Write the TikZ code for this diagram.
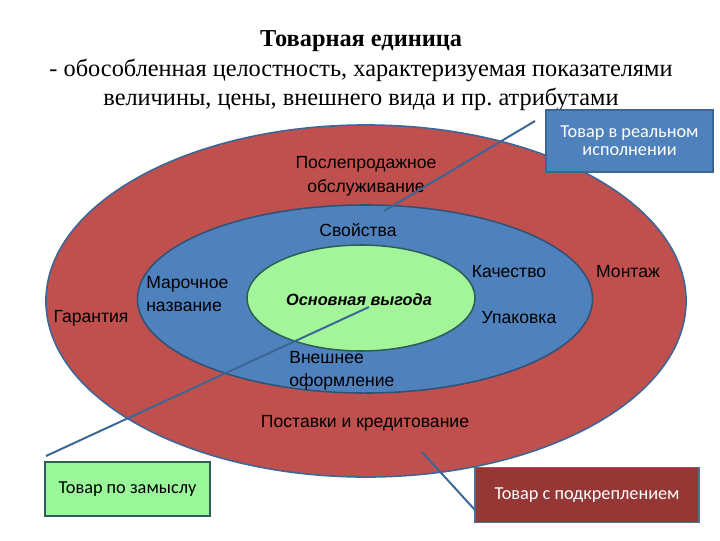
\documentclass[tikz,border=0pt]{standalone}
\usepackage{fontspec}
\setmainfont{Liberation Serif}
\newfontfamily\lsans{Liberation Sans}
\newfontfamily\calib{Carlito}
\usetikzlibrary{shapes.geometric}
\definecolor{ringred}{HTML}{C0504D}
\definecolor{ringblue}{HTML}{4F81BD}
\definecolor{ringgreen}{HTML}{A2F598}
\definecolor{edgeblue}{HTML}{3B6696}
\definecolor{edgeteal}{HTML}{2E5E5C}
\definecolor{boxred}{HTML}{953735}
\definecolor{boxgreen}{HTML}{99F79A}
\tikzset{
  ring/.style={ellipse,draw=edgeblue,line width=1.1pt,inner sep=0pt},
  lbl/.style={font=\lsans\fontsize{12.5}{16}\selectfont,text=black,inner sep=0pt,align=#1},
  lbl/.default=center,
  tag/.style={rectangle,line width=1.2pt,inner sep=0pt,align=center,font=\calib\fontsize{13}{13}\selectfont},
  lead/.style={edgeblue,line width=1.4pt},
}
\frenchspacing
\begin{document}
\begin{tikzpicture}[x=0.025cm,y=-0.025cm]
\useasboundingbox (0,0) rectangle (720,540);
% title
\node[align=center,font=\fontsize{17.3}{21}\selectfont] (title) at (361,71)
  {\textbf{Товарная единица}\\- обособленная целостность, характеризуемая показателями\\величины, цены, внешнего вида и пр. атрибутами};
% rings
\node[ring,fill=ringred,minimum width=16cm,minimum height=8.8cm] (outer) at (366,301) {};
\node[ring,fill=ringblue,draw=edgeblue!80!black,minimum width=11.375cm,minimum height=4.7cm] (mid) at (365,299) {};
\node[ring,fill=ringgreen,draw=edgeteal,minimum width=5.7cm,minimum height=2.65cm] (core) at (361,298) {};
% labels
\node[lbl,font=\lsans\fontsize{12.5}{17}\selectfont] (service) at (366,176) {Послепродажное\\обслуживание};
\node[lbl] (props) at (358,230) {Свойства};
\node[lbl=left,anchor=west] (brand) at (146,294) {Марочное\\название};
\node[lbl] (warranty) at (91,318) {Гарантия};
\node[lbl,font=\lsans\fontsize{11.6}{16}\selectfont\bfseries\itshape] (benefit) at (359,300) {Основная выгода};
\node[lbl] (quality) at (509,272) {Качество};
\node[lbl] (pack) at (519,318) {Упаковка};
\node[lbl] (mount) at (628,272) {Монтаж};
\node[lbl=left,anchor=west] (design) at (289,371) {Внешнее\\оформление};
\node[lbl] (credit) at (365,423) {Поставки и кредитование};
% boxes
\node[tag,fill=ringblue,draw=edgeblue,text=white,minimum width=4.175cm,minimum height=1.55cm] (real) at (629.5,141) {Товар в реальном\\исполнении};
\node[tag,fill=boxgreen,draw=edgeteal,minimum width=4.125cm,minimum height=1.35cm] (idea) at (127.5,489) {Товар по замыслу};
\node[tag,fill=boxred,draw=edgeblue!70!gray,text=white,minimum width=5.6cm,minimum height=1.375cm] (extra) at (587,495) {Товар с подкреплением};
% leaders
\coordinate (realend) at (535,121);
\coordinate (propsin) at (384,211);
\coordinate (ideaend) at (46,456);
\coordinate (corein) at (369,307);
\coordinate (creditin) at (422,452);
\coordinate (extraend) at (475,510);
\draw[lead] (realend) -- (propsin);
\draw[lead] (ideaend) -- (corein);
\draw[lead] (creditin) -- (extraend);
\end{tikzpicture}
\end{document}
